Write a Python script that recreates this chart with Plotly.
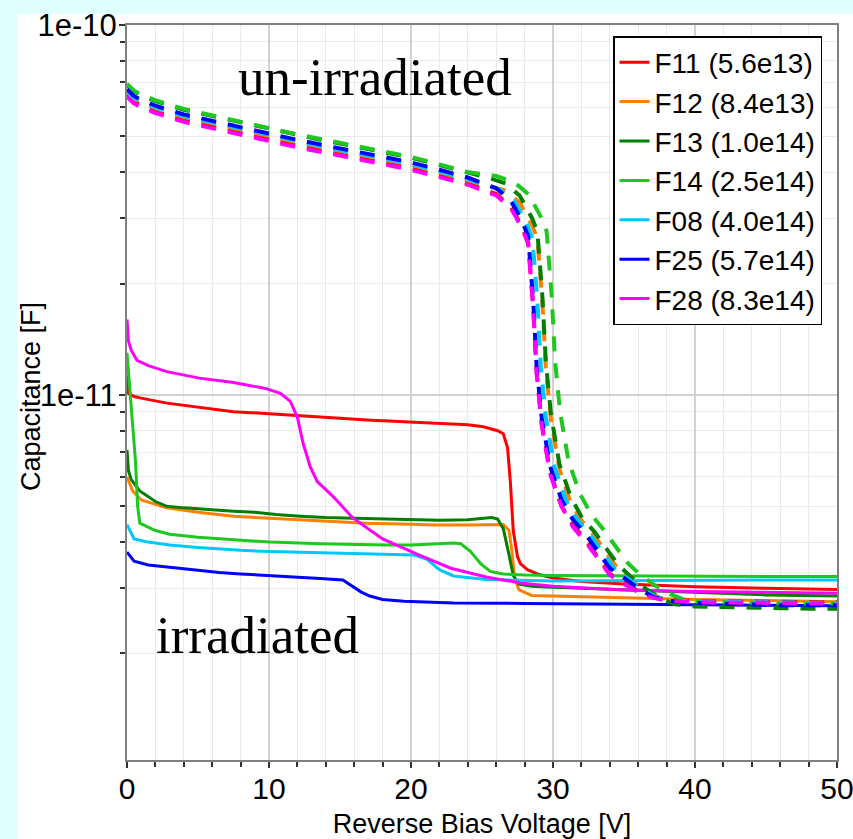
import plotly.graph_objects as go

# ---------------- data ----------------
series_names = ["F11 (5.6e13)", "F12 (8.4e13)", "F13 (1.0e14)", "F14 (2.5e14)",
                "F08 (4.0e14)", "F25 (5.7e14)", "F28 (8.3e14)"]
series_colors = ["#FF0000", "#FF8000", "#007F00", "#1EC81E", "#00C8FF", "#0000FF", "#FF00FF"]

# irradiated (solid)
v_f11 = [0, 0.1, 0.5, 1, 2.8, 5, 7.5, 10, 12.2, 15, 16.9, 19, 21.6, 24, 25.1, 26.1, 26.5, 26.8,
         27.0, 27.2, 27.5, 27.7, 28.2, 28.9, 30, 32, 35, 40, 45, 50]
c_f11 = [1.13e-11, 1.01e-11, 9.9e-12, 9.8e-12, 9.5e-12, 9.25e-12, 9.0e-12, 8.9e-12, 8.8e-12, 8.65e-12,
         8.55e-12, 8.48e-12, 8.4e-12, 8.3e-12, 8.2e-12, 8.0e-12, 7.85e-12, 7.2e-12,
         5.8e-12, 4.3e-12, 3.65e-12, 3.5e-12, 3.37e-12, 3.28e-12, 3.2e-12, 3.13e-12, 3.08e-12, 3.03e-12, 3.0e-12, 2.98e-12]

v_f12 = [0, 0.4, 1, 2.8, 5, 7.5, 10, 12.2, 15, 16.9, 20, 21.6, 24, 26.5, 26.9, 27.1, 27.3, 27.6, 28.5,
         30, 35, 40, 45, 50]
c_f12 = [6.0e-12, 5.5e-12, 5.2e-12, 4.95e-12, 4.82e-12, 4.7e-12, 4.64e-12, 4.6e-12, 4.54e-12, 4.5e-12,
         4.47e-12, 4.45e-12, 4.45e-12, 4.46e-12, 4.3e-12, 3.8e-12, 3.2e-12, 2.97e-12, 2.87e-12,
         2.86e-12, 2.83e-12, 2.8e-12, 2.78e-12, 2.76e-12]

v_f13 = [0, 0.1, 0.3, 0.9, 2, 2.8, 4, 5.5, 7.5, 9, 10.5, 12.2, 14, 16, 18, 20, 22, 24, 25.7, 26.1,
         26.5, 26.9, 27.2, 27.6, 28.5, 30, 35, 40, 45, 50]
c_f13 = [7.1e-12, 6.25e-12, 5.9e-12, 5.5e-12, 5.15e-12, 5.0e-12, 4.95e-12, 4.9e-12, 4.85e-12, 4.82e-12,
         4.75e-12, 4.7e-12, 4.66e-12, 4.64e-12, 4.62e-12, 4.6e-12, 4.58e-12, 4.6e-12, 4.66e-12, 4.62e-12,
         4.35e-12, 3.7e-12, 3.25e-12, 3.08e-12, 3.04e-12, 3.02e-12, 2.97e-12, 2.92e-12, 2.88e-12, 2.86e-12]

v_f14 = [0, 0.2, 0.4, 0.6, 0.75, 0.9, 2, 3, 5, 6.5, 8, 10.1, 13.6, 16, 18.3, 20, 21.8, 23.0, 23.5,
         24.2, 24.9, 25.6, 26.5, 28, 30, 35, 40, 45, 50]
c_f14 = [1.3e-11, 1.05e-11, 8.3e-12, 6.6e-12, 5.0e-12, 4.5e-12, 4.3e-12, 4.2e-12, 4.12e-12, 4.08e-12,
         4.04e-12, 4.0e-12, 3.96e-12, 3.94e-12, 3.93e-12, 3.93e-12, 3.95e-12, 3.98e-12, 3.96e-12,
         3.77e-12, 3.5e-12, 3.33e-12, 3.28e-12, 3.26e-12, 3.25e-12, 3.24e-12, 3.23e-12, 3.23e-12, 3.23e-12]

v_f08 = [0, 0.5, 1.5, 3, 5, 6.5, 8, 10.1, 13.6, 17.1, 20.2, 21.1, 22.0, 23.0, 25.3, 30, 35, 40, 45, 50]
c_f08 = [4.46e-12, 4.08e-12, 4.0e-12, 3.93e-12, 3.87e-12, 3.83e-12, 3.8e-12, 3.77e-12, 3.74e-12, 3.72e-12,
         3.69e-12, 3.6e-12, 3.37e-12, 3.24e-12, 3.17e-12, 3.14e-12, 3.15e-12, 3.15e-12, 3.16e-12, 3.16e-12]

v_f25 = [0, 0.5, 1.5, 3, 5, 6.5, 8, 10.1, 12, 13.6, 15.2, 15.9, 16.5, 17.1, 18, 19.5, 23, 28, 32.4,
         40, 45, 50]
c_f25 = [3.76e-12, 3.55e-12, 3.47e-12, 3.42e-12, 3.35e-12, 3.31e-12, 3.28e-12, 3.25e-12, 3.22e-12,
         3.19e-12, 3.16e-12, 3.04e-12, 2.93e-12, 2.86e-12, 2.8e-12, 2.77e-12, 2.74e-12, 2.73e-12,
         2.72e-12, 2.71e-12, 2.7e-12, 2.69e-12]

v_f28 = [0, 0.1, 0.3, 0.7, 1.5, 2.8, 5.1, 7.5, 9.8, 10.8, 11.5, 12.0, 12.4, 12.9, 13.4, 14.5, 15.9,
         18.0, 20.5, 22.8, 25.3, 27.7, 30, 32.4, 35, 40, 45, 50]
c_f28 = [1.6e-11, 1.4e-11, 1.32e-11, 1.24e-11, 1.2e-11, 1.156e-11, 1.11e-11, 1.08e-11, 1.04e-11, 1.01e-11,
         9.6e-12, 8.7e-12, 7.4e-12, 6.4e-12, 5.83e-12, 5.32e-12, 4.65e-12, 4.08e-12, 3.7e-12, 3.4e-12,
         3.22e-12, 3.1e-12, 3.04e-12, 3.0e-12, 2.97e-12, 2.94e-12, 2.92e-12, 2.91e-12]

# un-irradiated (dashed)
vd_f11 = [0, 0.5, 1, 2, 4, 6, 8, 10, 12, 14, 16, 18, 20, 22, 24, 26, 27, 27.4, 27.9, 28.25, 28.4,
          28.6, 28.85, 29.2, 29.8, 30.6, 31.4, 32.3, 33.2, 34, 35, 36, 37, 38, 40, 43, 46, 50]
cd_f11 = [6.47e-11, 6.2e-11, 6.06e-11, 5.84e-11, 5.53e-11, 5.31e-11, 5.1e-11, 4.9e-11, 4.72e-11, 4.55e-11,
          4.4e-11, 4.26e-11, 4.1e-11, 3.92e-11, 3.73e-11, 3.49e-11, 3.24e-11, 3.05e-11, 2.8e-11, 2.59e-11,
          2.17e-11, 1.75e-11, 1.15e-11, 8.4e-12, 6.2e-12, 5.0e-12, 4.45e-12, 4.05e-12, 3.62e-12, 3.28e-12,
          3.1e-12, 2.95e-12, 2.85e-12, 2.8e-12, 2.77e-12, 2.76e-12, 2.75e-12, 2.75e-12]

vd_f12 = [0, 0.5, 1, 2, 4, 6, 8, 10, 12, 14, 16, 18, 20, 22, 24, 25.5, 26.65, 27.65, 28.05, 28.55,
          28.9, 29.05, 29.25, 29.5, 29.85, 30.45, 31.25, 32.05, 32.95, 33.85, 34.65, 35.5, 36.5, 37.5,
          38.5, 40, 43, 46, 50]
cd_f12 = [6.6e-11, 6.32e-11, 6.19e-11, 5.96e-11, 5.64e-11, 5.42e-11, 5.21e-11, 5.0e-11, 4.82e-11, 4.65e-11,
          4.49e-11, 4.34e-11, 4.19e-11, 4.0e-11, 3.81e-11, 3.69e-11, 3.57e-11, 3.31e-11, 3.11e-11, 2.86e-11,
          2.64e-11, 2.22e-11, 1.78e-11, 1.17e-11, 8.6e-12, 6.3e-12, 5.1e-12, 4.55e-12, 4.15e-12, 3.7e-12,
          3.35e-12, 3.15e-12, 2.97e-12, 2.83e-12, 2.77e-12, 2.75e-12, 2.73e-12, 2.72e-12, 2.72e-12]

vd_f13 = [0, 0.5, 1, 2, 4, 6, 8, 10, 12, 14, 16, 18, 20, 22, 24, 25.5, 26.65, 27.65, 28.05, 28.55,
          28.9, 29.05, 29.25, 29.5, 29.85, 30.45, 31.25, 32.05, 32.95, 33.85, 34.65, 35.5, 36.5, 37.5,
          38.5, 40, 43, 46, 50]
cd_f13 = [6.9e-11, 6.61e-11, 6.47e-11, 6.23e-11, 5.9e-11, 5.67e-11, 5.45e-11, 5.23e-11, 5.04e-11, 4.86e-11,
          4.7e-11, 4.54e-11, 4.38e-11, 4.18e-11, 3.99e-11, 3.86e-11, 3.73e-11, 3.46e-11, 3.25e-11, 2.99e-11,
          2.76e-11, 2.3e-11, 1.85e-11, 1.22e-11, 8.9e-12, 6.5e-12, 5.3e-12, 4.65e-12, 4.25e-12, 3.8e-12,
          3.45e-12, 3.22e-12, 3.0e-12, 2.83e-12, 2.72e-12, 2.68e-12, 2.66e-12, 2.65e-12, 2.64e-12]

vd_f14 = [0, 0.5, 1, 2, 4, 6, 8, 10, 12, 14, 16, 18, 20, 22, 24, 26, 27.3, 28.3, 28.7, 29.2, 29.55,
          29.7, 29.9, 30.15, 30.5, 31.1, 31.9, 32.7, 33.6, 34.5, 35.3, 36.2, 37.2, 38.2, 39.2, 40.5, 43,
          46, 50]
cd_f14 = [6.93e-11, 6.64e-11, 6.5e-11, 6.26e-11, 5.93e-11, 5.69e-11, 5.48e-11, 5.26e-11, 5.06e-11, 4.89e-11,
          4.72e-11, 4.56e-11, 4.4e-11, 4.2e-11, 4.0e-11, 3.91e-11, 3.75e-11, 3.48e-11, 3.27e-11, 3.0e-11,
          2.77e-11, 2.33e-11, 1.87e-11, 1.23e-11, 9.0e-12, 6.6e-12, 5.4e-12, 4.75e-12, 4.3e-12, 3.85e-12,
          3.5e-12, 3.25e-12, 3.05e-12, 2.9e-12, 2.8e-12, 2.76e-12, 2.74e-12, 2.73e-12, 2.73e-12]

vd_f08 = [0, 0.5, 1, 2, 4, 6, 8, 10, 12, 14, 16, 18, 20, 22, 24, 26.3, 27.3, 27.7, 28.2, 28.55, 28.7,
          28.9, 29.15, 29.5, 30.1, 30.9, 31.7, 32.6, 33.5, 34.3, 35.2, 36.2, 37.2, 38.2, 40, 43, 46, 50]
cd_f08 = [6.63e-11, 6.36e-11, 6.22e-11, 5.99e-11, 5.67e-11, 5.45e-11, 5.24e-11, 5.03e-11, 4.84e-11, 4.67e-11,
          4.51e-11, 4.37e-11, 4.21e-11, 4.02e-11, 3.83e-11, 3.58e-11, 3.33e-11, 3.13e-11, 2.87e-11, 2.65e-11,
          2.23e-11, 1.8e-11, 1.18e-11, 8.7e-12, 6.4e-12, 5.2e-12, 4.6e-12, 4.2e-12, 3.75e-12, 3.4e-12,
          3.2e-12, 3.0e-12, 2.85e-12, 2.78e-12, 2.76e-12, 2.75e-12, 2.74e-12, 2.74e-12]

vd_f25 = [0, 0.5, 1, 2, 4, 6, 8, 10, 12, 14, 16, 18, 20, 22, 24, 26, 27, 27.4, 27.9, 28.25, 28.4,
          28.6, 28.85, 29.2, 29.8, 30.6, 31.4, 32.3, 33.2, 34, 35, 36, 37, 38, 40, 43, 46, 50]
cd_f25 = [6.7e-11, 6.42e-11, 6.28e-11, 6.05e-11, 5.73e-11, 5.5e-11, 5.29e-11, 5.08e-11, 4.89e-11, 4.72e-11,
          4.56e-11, 4.41e-11, 4.25e-11, 4.06e-11, 3.87e-11, 3.62e-11, 3.36e-11, 3.16e-11, 2.9e-11, 2.68e-11,
          2.25e-11, 1.81e-11, 1.19e-11, 8.7e-12, 6.4e-12, 5.2e-12, 4.6e-12, 4.2e-12, 3.75e-12, 3.4e-12,
          3.2e-12, 3.0e-12, 2.85e-12, 2.78e-12, 2.74e-12, 2.72e-12, 2.7e-12, 2.7e-12]

vd_f28 = [0, 0.5, 1, 2, 4, 6, 8, 10, 12, 14, 16, 18, 20, 22, 24, 26, 27, 27.4, 27.9, 28.25, 28.4,
          28.6, 28.85, 29.2, 29.8, 30.6, 31.4, 32.3, 33.2, 34, 35, 36, 37, 38, 40, 43, 46, 50]
cd_f28 = [6.4e-11, 6.13e-11, 6.0e-11, 5.78e-11, 5.47e-11, 5.25e-11, 5.05e-11, 4.85e-11, 4.67e-11, 4.51e-11,
          4.35e-11, 4.21e-11, 4.06e-11, 3.88e-11, 3.7e-11, 3.46e-11, 3.21e-11, 3.02e-11, 2.77e-11, 2.56e-11,
          2.15e-11, 1.73e-11, 1.14e-11, 8.3e-12, 6.1e-12, 5.0e-12, 4.4e-12, 4.0e-12, 3.6e-12, 3.26e-12,
          3.08e-12, 2.93e-12, 2.83e-12, 2.78e-12, 2.75e-12, 2.74e-12, 2.73e-12, 2.73e-12]

solid_v = [v_f11, v_f12, v_f13, v_f14, v_f08, v_f25, v_f28]
solid_c = [c_f11, c_f12, c_f13, c_f14, c_f08, c_f25, c_f28]
dash_v = [vd_f11, vd_f12, vd_f13, vd_f14, vd_f08, vd_f25, vd_f28]
dash_c = [cd_f11, cd_f12, cd_f13, cd_f14, cd_f08, cd_f25, cd_f28]

y_major_vals = [1e-11, 1e-10]
y_major_text = ["1e-11", "1e-10"]
y_minor_vals = [2e-12, 3e-12, 4e-12, 5e-12, 6e-12, 7e-12, 8e-12, 9e-12,
                2e-11, 3e-11, 4e-11, 5e-11, 6e-11, 7e-11, 8e-11, 9e-11]

# ---------------- figure ----------------
FONT = "Arial, Liberation Sans, sans-serif"
SERIF = "Times New Roman, Liberation Serif, serif"
BG = "#E0FFFF"
fig = go.Figure()

for name, col, vv, cc in zip(series_names, series_colors, solid_v, solid_c):
    fig.add_trace(go.Scatter(x=vv, y=cc, mode="lines", name=name, legendgroup=name,
                             line=dict(color=col, width=3)))

for name, col, vv, cc in zip(series_names, series_colors, dash_v, dash_c):
    fig.add_trace(go.Scatter(x=vv, y=cc, mode="lines", name=name, legendgroup=name,
                             showlegend=False,
                             line=dict(color=col, width=4, dash="15px,12px")))

L, R, T, B = 127, 16, 25, 79
W, H = 853, 839
pw, ph = W - L - R, H - T - B

def px(xp):
    return (xp - L) / pw

def py(yp):
    return 1 - (yp - T) / ph

fig.add_shape(type="rect", xref="paper", yref="paper", layer="below",
              x0=px(18), x1=px(W + 20), y0=py(H + 20), y1=py(14),
              fillcolor="white", line=dict(width=0))

fig.add_annotation(text="un-irradiated", xref="paper", yref="paper", x=px(375), y=py(77),
                   xanchor="center", yanchor="middle", showarrow=False,
                   font=dict(family=SERIF, size=53, color="black"))
fig.add_annotation(text="irradiated", xref="paper", yref="paper", x=px(257), y=py(635),
                   xanchor="center", yanchor="middle", showarrow=False,
                   font=dict(family=SERIF, size=53, color="black"))
# y-axis title
fig.add_annotation(text="Capacitance [F]", xref="paper", yref="paper", x=px(31), y=py(397),
                   xanchor="center", yanchor="middle", textangle=-90, showarrow=False,
                   font=dict(family=FONT, size=27, color="black"))

fig.update_layout(
    width=W, height=H, autosize=False,
    margin=dict(l=L, r=R, t=T, b=B, pad=0),
    paper_bgcolor=BG, plot_bgcolor="white",
    font=dict(family=FONT, color="black"),
    legend=dict(x=px(822), y=py(36), xanchor="right", yanchor="top",
                bgcolor="white", bordercolor="black", borderwidth=1.5,
                font=dict(size=28, family=FONT, color="black"),
                tracegroupgap=0, itemwidth=30),
    showlegend=True,
)

fig.update_xaxes(
    range=[0, 50], dtick=10, tick0=0, automargin=False,
    showline=True, linecolor="#808080", linewidth=2, mirror=True,
    ticks="outside", ticklen=6, tickwidth=2, tickcolor="#333333",
    tickfont=dict(size=30, family=FONT), ticklabelstandoff=-5, ticklabeloverflow="allow",
    showgrid=True, gridcolor="#D2D2D2", gridwidth=1.5, zeroline=False,
    minor=dict(dtick=2, ticks="outside", ticklen=5, tickwidth=2, tickcolor="#333333",
               showgrid=True, gridcolor="#EBEBEB", gridwidth=1),
    title=dict(text="Reverse Bias Voltage [V]", font=dict(size=27, family=FONT), standoff=15),
)

fig.update_yaxes(
    type="log", range=[-11.987, -10], automargin=False,
    tickvals=y_major_vals, ticktext=y_major_text,
    showline=True, linecolor="#808080", linewidth=2, mirror=True,
    ticks="outside", ticklen=6, tickwidth=2, tickcolor="#333333",
    tickfont=dict(size=31, family=FONT), ticklabelstandoff=-4,
    showgrid=True, gridcolor="#D2D2D2", gridwidth=1.5, zeroline=False,
    minor=dict(tickvals=y_minor_vals, ticks="outside", ticklen=5, tickwidth=2, tickcolor="#333333",
               showgrid=True, gridcolor="#EBEBEB", gridwidth=1),
)

fig.write_html("out.html", config={"displayModeBar": False},
               post_script="document.body.style.margin='0px';document.body.style.background='%s';" % BG)
